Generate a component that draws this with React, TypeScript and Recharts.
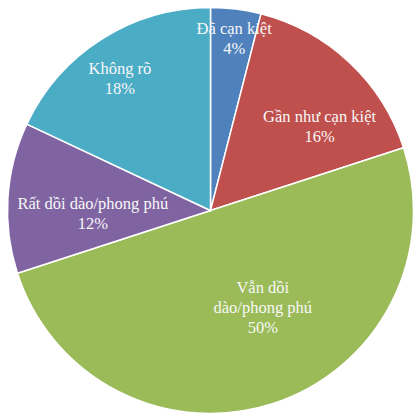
import React from 'react';
import { PieChart, Pie, Cell } from 'recharts';

const categories = ['Đã cạn kiệt', 'Gần như cạn kiệt', 'Vẫn dồi dào/phong phú', 'Rất dồi dào/phong phú', 'Không rõ'];
const shares = [4, 16, 50, 12, 18];
const colors = ['#4F81BD', '#C0504D', '#9BBB59', '#8064A2', '#4BACC6'];

// label placement tweaks (radius fraction, clockwise angle offset in deg, wrap width in chars)
const labelRadius = [0.86, 0.68, 0.54, 0.58, 0.79];
const labelAngleShift = [0.6, 9, -10.5, -5, -2];
const labelWrap = [30, 30, 13, 30, 30];

const data = categories.map((name, i) => ({ name, value: shares[i] }));

const RAD = Math.PI / 180;
const serif = '"Liberation Serif", "Times New Roman", serif';

const wrap = (text: string, max: number) => {
  const words = text.split(' ');
  const lines: string[] = [];
  let cur = '';
  words.forEach((w) => {
    const next = cur ? cur + ' ' + w : w;
    if (next.length > max && cur) {
      lines.push(cur);
      cur = w;
    } else {
      cur = next;
    }
  });
  if (cur) lines.push(cur);
  return lines;
};

const renderLabel = (props: any) => {
  const { cx, cy, midAngle, outerRadius, index, name, value } = props;
  const r = outerRadius * labelRadius[index];
  const ang = midAngle - labelAngleShift[index];
  const x = cx + r * Math.cos(-ang * RAD);
  const y = cy + r * Math.sin(-ang * RAD);
  const lines = [...wrap(name, labelWrap[index]), `${value}%`];
  const lh = 20;
  const top = y - ((lines.length - 1) * lh) / 2;
  return (
    <text
      key={`lbl-${index}`}
      x={x}
      y={top}
      textAnchor="middle"
      dominantBaseline="central"
      fill="#f7f7f7"
      style={{ fontFamily: serif, fontSize: 16.5 }}
    >
      {lines.map((l, i) => (
        <tspan key={i} x={x} y={top + i * lh}>
          {l}
        </tspan>
      ))}
    </text>
  );
};

export default function App() {
  return (
    <div style={{ position: 'absolute', left: 0, top: 0, width: 413, height: 417, background: '#fff' }}>
      <PieChart width={413} height={417} margin={{ top: 0, right: 0, bottom: 0, left: 0 }}>
        <Pie
          data={data}
          dataKey="value"
          nameKey="name"
          cx={210.5}
          cy={210.5}
          outerRadius={203}
          startAngle={90}
          endAngle={-270}
          stroke="#ffffff"
          strokeWidth={1.5}
          label={renderLabel}
          labelLine={false}
          isAnimationActive={false}
        >
          {data.map((d, i) => (
            <Cell key={d.name} fill={colors[i]} />
          ))}
        </Pie>
      </PieChart>
    </div>
  );
}
